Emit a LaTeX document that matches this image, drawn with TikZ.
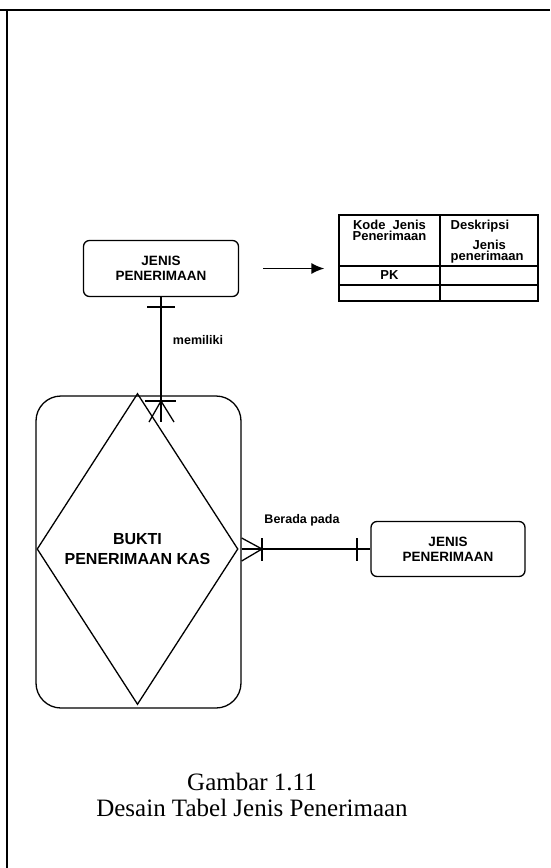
\documentclass[tikz,border=0pt]{standalone}
\usepackage{fontspec}
\setmainfont{Liberation Serif}
\setsansfont{Liberation Sans}
\usetikzlibrary{arrows.meta, positioning, shapes.geometric}

\begin{document}
\begin{tikzpicture}[
  x=1pt, y=-1pt,
  entity/.style = {draw, line width=1.3pt, rounded corners=6pt, minimum width=155pt, minimum height=56pt, align=center,
                   font=\sffamily\bfseries\fontsize{13.5}{15}\selectfont},
  cell/.style 2 args = {draw, line width=1.1pt, inner sep=0pt, minimum width=#1, minimum height=#2,
                   font=\sffamily\bfseries\fontsize{13}{12}\selectfont},
  celltext/.style = {inner sep=0pt, font=\sffamily\bfseries\fontsize{13}{11.5}\selectfont},
  rel/.style = {line width=1.3pt},
  lbl/.style = {font=\sffamily\bfseries\fontsize{12.5}{14}\selectfont},
  arrow/.style = {-{Latex[length=13pt, width=11pt]}, line width=1.8pt},
  caption/.style = {align=center, font=\fontsize{25}{26}\selectfont}
]
\useasboundingbox (0,0) rectangle (550,868);

% Frame
\draw[line width=2.4pt] (0,10) -- (550,10);
\draw[line width=2.4pt] (7,10) -- (7,868);

% Entities
\node[entity] (jenis1) at (161,268.5) {JENIS\\PENERIMAAN};
\node[entity, minimum width=154pt, minimum height=55pt] (jenis2) at (448,549) {JENIS\\PENERIMAAN};
\node[draw, line width=1.3pt, rounded corners=25pt, minimum width=205pt, minimum height=312pt] (kasbox) at (138.5,552) {};
\node[diamond, draw, line width=1.3pt, minimum width=201pt, minimum height=311pt, align=center,
      font=\sffamily\bfseries\fontsize{16}{20}\selectfont] (kas) at (137.5,549) {BUKTI\\PENERIMAAN KAS};

% Table Jenis Penerimaan
\node[cell={101pt}{51pt}] (kode) at (389.5,240.5) {};
\node[cell={98pt}{51pt}] (deskripsi) at (489,240.5) {};
\node[cell={101pt}{19pt}] (pk) at (389.5,275.5) {PK};
\node[cell={98pt}{19pt}] (pkdesk) at (489,275.5) {};
\node[cell={101pt}{16pt}] (kosong1) at (389.5,293) {};
\node[cell={98pt}{16pt}] (kosong2) at (489,293) {};
\node[celltext, align=center, below=5pt of kode.north] {Kode\ \ Jenis\\Penerimaan};
\node[celltext, align=left, below right=5pt and 11pt of deskripsi.north west] {Deskripsi\\[7pt]\hspace*{22pt}Jenis\\penerimaan};

% Arrow to table
\draw[arrow, shorten <=24pt, shorten >=14pt] (jenis1.east) -- (kode.west |- jenis1.east);

% Relation memiliki
\coordinate (topfoot) at (161,422);
\coordinate (topbar) at (161,401);
\coordinate (topone) at (161,307);
\draw[rel] (jenis1.south) -- (topfoot);
\draw[rel] ([xshift=-14pt]topone) -- ([xshift=14pt]topone);
\draw[rel] ([xshift=-16pt]topbar) -- ([xshift=15pt]topbar);
\draw[rel] ([xshift=-12pt]topfoot) -- (topbar) -- ([xshift=13pt]topfoot);
\node[lbl] (memiliki) at (198,340) {memiliki};

% Relation Berada pada
\coordinate (rightfoot) at (262,549);
\coordinate (rightone) at (357,549);
\draw[rel] (kasbox.east |- kas.east) -- (jenis2.west);
\draw[rel] ([yshift=11pt]rightfoot) -- ([yshift=-12pt]rightfoot);
\draw[rel] ([yshift=11pt]rightone) -- ([yshift=-12pt]rightone);
\draw[rel] ([yshift=11pt]kasbox.east |- kas.east) -- (rightfoot) -- ([yshift=-12pt]kasbox.east |- kas.east);
\node[lbl] (berada) at (302,520) {Berada pada};

% Caption
\node[caption] (judul) at (252,795) {Gambar 1.11\\Desain Tabel Jenis Penerimaan};
\end{tikzpicture}
\end{document}
